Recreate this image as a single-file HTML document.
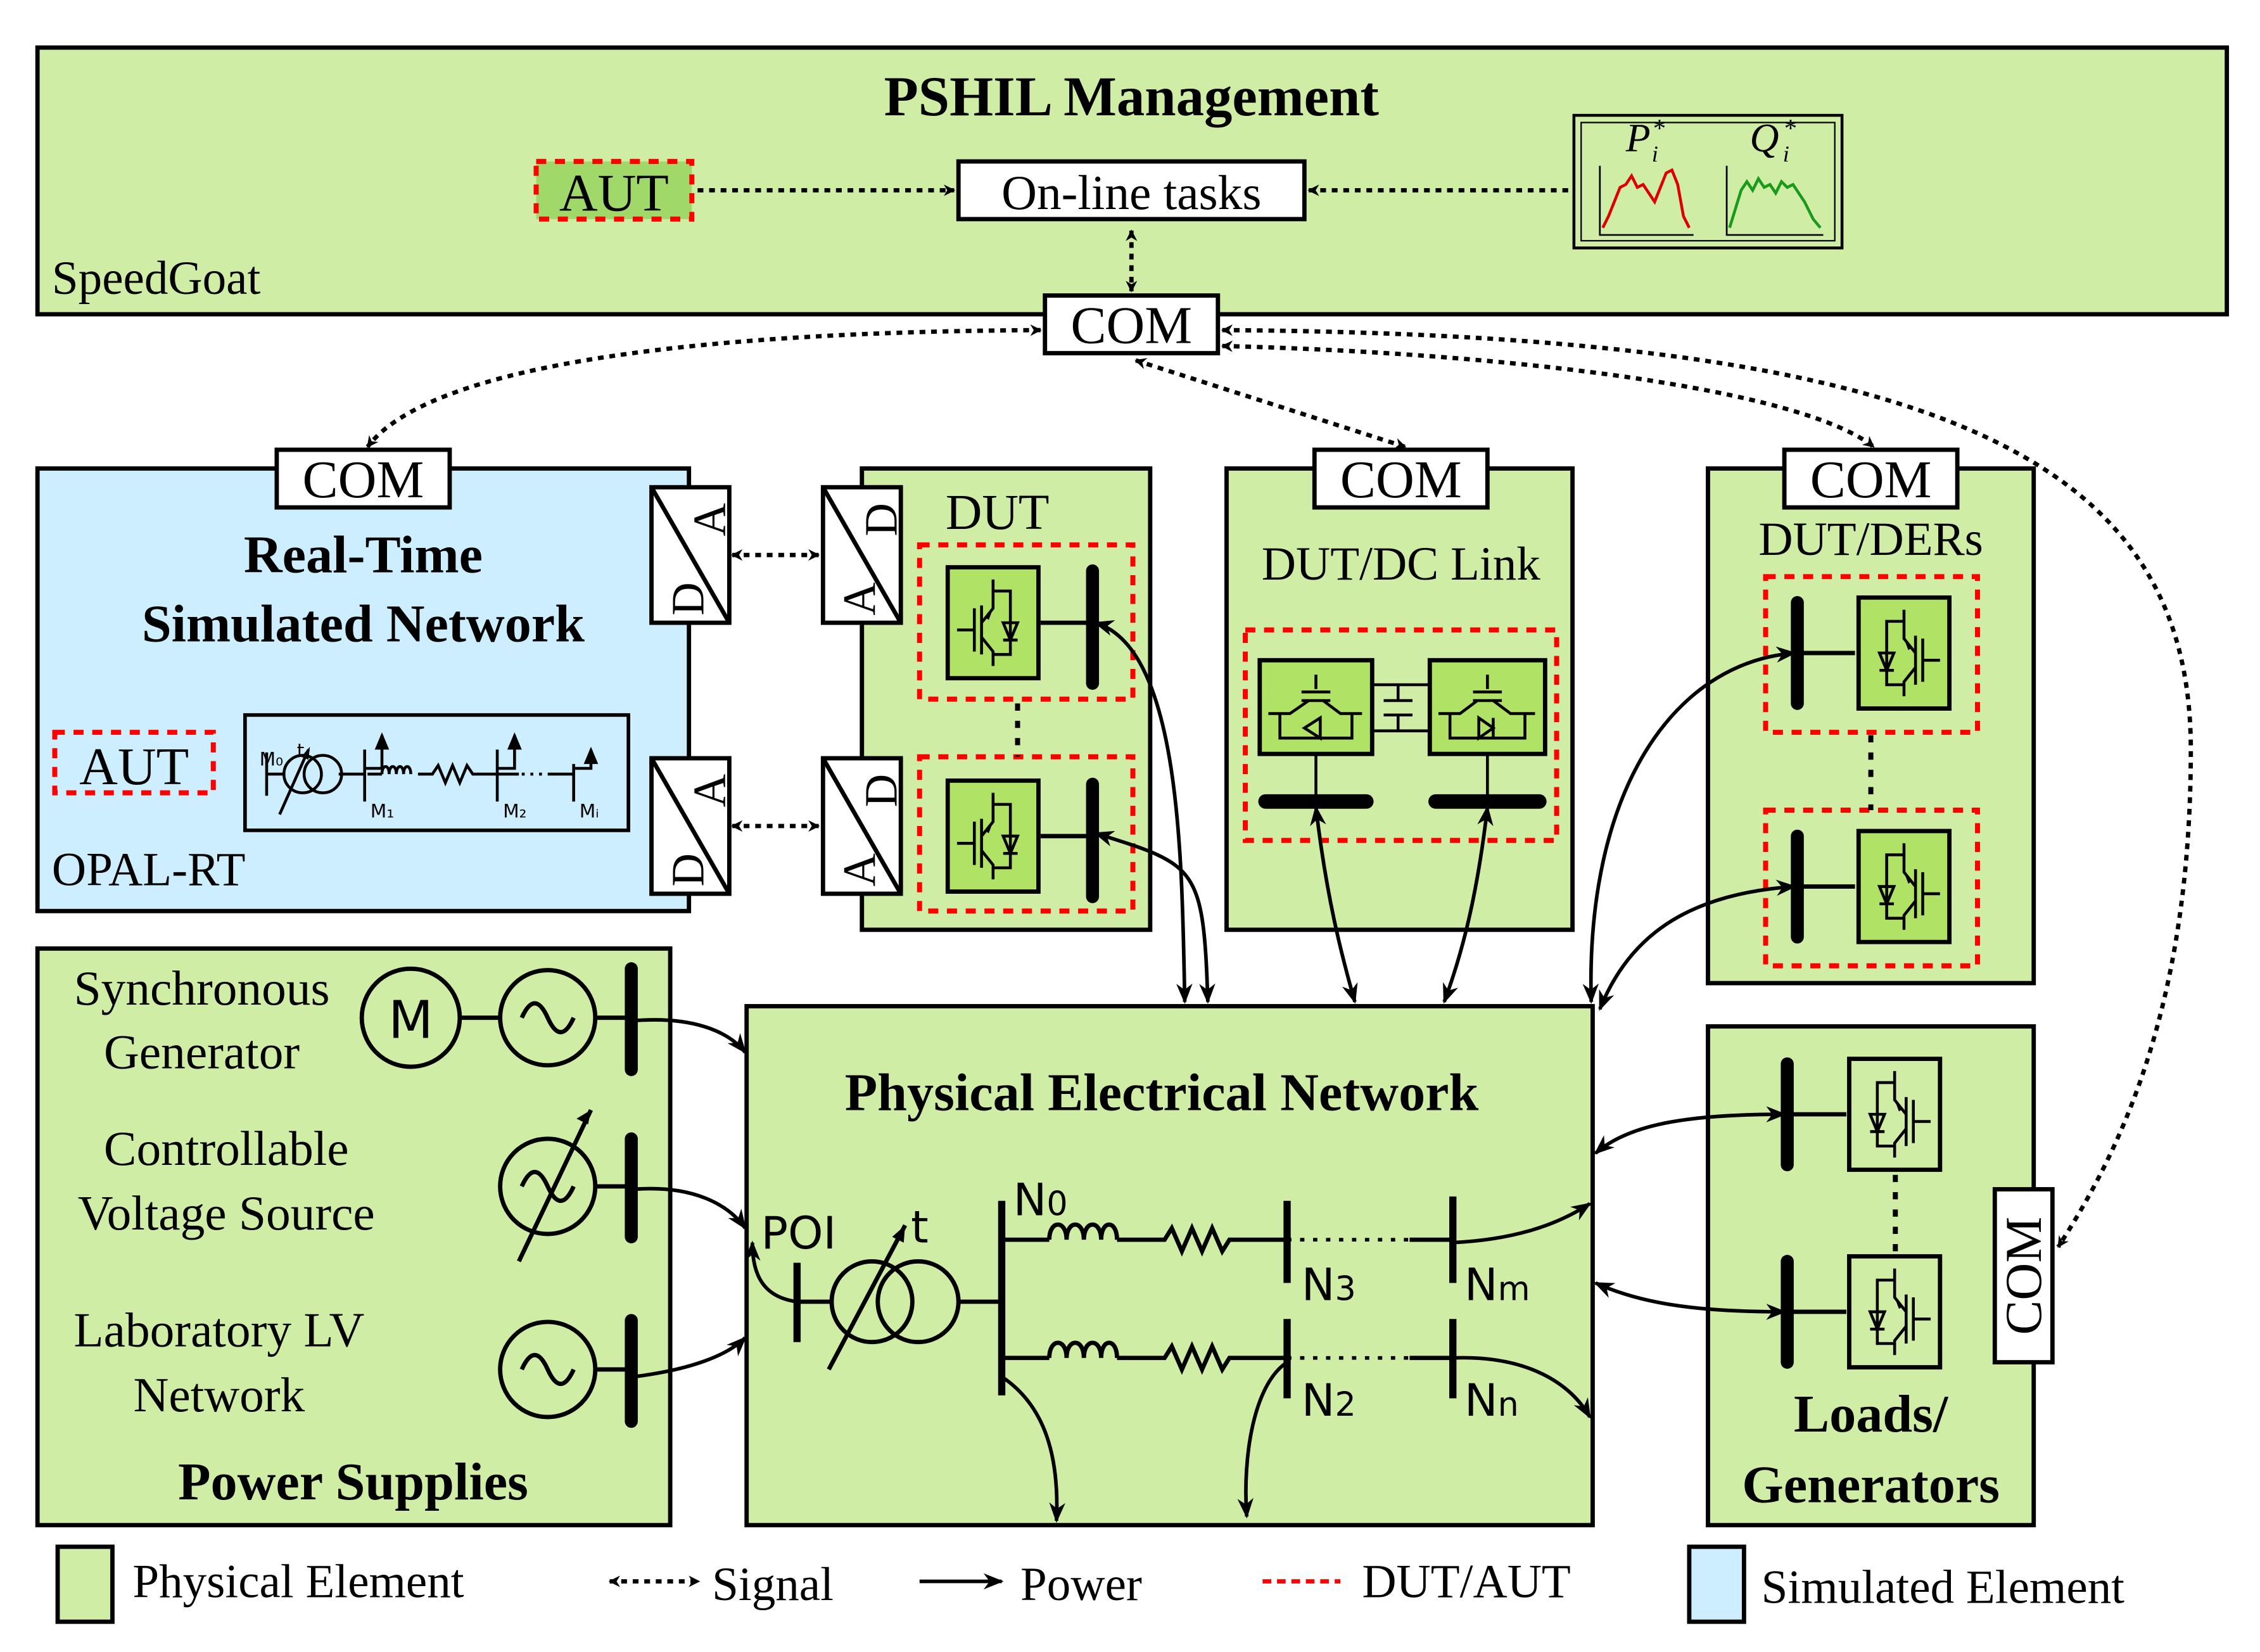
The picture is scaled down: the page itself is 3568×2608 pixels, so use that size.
<!DOCTYPE html>
<html><head><meta charset="utf-8"><style>html,body{margin:0;padding:0;background:#fff}svg{display:block}</style></head><body>
<svg width="3568" height="2608" viewBox="0 0 1568 1146" preserveAspectRatio="none" xmlns="http://www.w3.org/2000/svg" font-family="Liberation Serif, serif">
<defs>
<marker id="ar" viewBox="0 0 10 10" refX="9" refY="5" markerWidth="8" markerHeight="8" orient="auto-start-reverse" markerUnits="userSpaceOnUse"><path d="M0,0 L10,5 L0,10 L3,5z" fill="#000"/></marker>
<marker id="ap" viewBox="0 0 10 10" refX="9" refY="5" markerWidth="14" markerHeight="14" orient="auto-start-reverse" markerUnits="userSpaceOnUse"><path d="M0,1 L10,5 L0,9 L3,5z" fill="#000"/></marker>
<symbol id="inv" viewBox="0 0 66 80">
<rect x="1.5" y="1.5" width="63" height="77" fill="inherit" stroke="#000" stroke-width="3"/>
<g stroke="#000" stroke-width="2" fill="none">
<path d="M8,45 H20 M20,30 V60 M25,28 V62 M33,10 V30 L25,40 M25,50 L33,60 V70 M33,18 H45 V62 H33"/>
<path d="M40,40 H50 L45,52 Z M40,52 H50"/>
</g>
<path d="M33,30 L27,36 L30,38Z" fill="#000"/>
</symbol>
</defs>
<g stroke="#000" stroke-width="3">
<rect x="26" y="33" width="1519" height="185" fill="#d0eda6"/>
<rect x="26" y="325" width="452" height="307" fill="#cdeefe"/>
<rect x="598" y="325" width="200" height="320" fill="#d0eda6"/>
<rect x="851" y="325" width="240" height="320" fill="#d0eda6"/>
<rect x="1185" y="325" width="226" height="357" fill="#d0eda6"/>
<rect x="26" y="658" width="439" height="400" fill="#d0eda6"/>
<rect x="518" y="698" width="587" height="360" fill="#d0eda6"/>
<rect x="1185" y="712" width="226" height="346" fill="#d0eda6"/>
<rect x="665" y="112" width="240" height="40" fill="#fff"/>
<rect x="725" y="205" width="120" height="40" fill="#fff"/>
<rect x="192" y="312" width="120" height="40" fill="#fff"/>
<rect x="912" y="312" width="120" height="40" fill="#fff"/>
<rect x="1238" y="312" width="120" height="40" fill="#fff"/>
<rect x="1384" y="825" width="40" height="120" fill="#fff"/>
<rect x="1092" y="80" width="186" height="92" fill="#d0eda6" stroke-width="2"/>
<rect x="170" y="496" width="266" height="80" fill="#cdeefe" stroke-width="2.5"/>
</g>
<rect x="1097" y="85" width="176" height="82" fill="none" stroke="#000" stroke-width="1"/>
<g stroke="#f00" stroke-width="3.5" stroke-dasharray="7,6" fill="none">
<rect x="372" y="112" width="108" height="40" fill="#a0d86a"/>
<rect x="38" y="508" width="110" height="42" fill="#cdeefe"/>
<rect x="638" y="378" width="148" height="107"/>
<rect x="638" y="525" width="148" height="107"/>
<rect x="864" y="437" width="216" height="146"/>
<rect x="1225" y="400" width="147" height="108"/>
<rect x="1225" y="562" width="147" height="108"/>
</g>
<g font-size="37" text-anchor="middle">
<text x="785" y="80" font-weight="bold" font-size="39">PSHIL Management</text>
<text x="426" y="146">AUT</text>
<text x="785" y="145" font-size="34">On-line tasks</text>
<text x="785" y="238">COM</text>
<text x="252" y="345">COM</text>
<text x="972" y="345">COM</text>
<text x="1298" y="345">COM</text>
<text x="93" y="544">AUT</text>
<text x="252" y="397" font-weight="bold">Real-Time</text>
<text x="252" y="445" font-weight="bold">Simulated Network</text>
<text x="806" y="770" font-weight="bold">Physical Electrical Network</text>
<text x="245" y="1040" font-weight="bold">Power Supplies</text>
<text x="1298" y="993" font-weight="bold">Loads/</text>
<text x="1298" y="1042" font-weight="bold">Generators</text>
<text x="692" y="367" font-size="35">DUT</text>
<text x="972" y="402" font-size="33">DUT/DC Link</text>
<text x="1298" y="385" font-size="33">DUT/DERs</text>
<text x="140" y="697" font-size="34">Synchronous</text>
<text x="140" y="741" font-size="34">Generator</text>
<text x="157" y="808" font-size="34">Controllable</text>
<text x="157" y="853" font-size="34">Voltage Source</text>
<text x="152" y="934" font-size="34">Laboratory LV</text>
<text x="152" y="979" font-size="34">Network</text>
</g>
<g font-size="33">
<text x="36" y="204">SpeedGoat</text>
<text x="36" y="614">OPAL-RT</text>
<text x="92" y="1108">Physical Element</text>
<text x="494" y="1110">Signal</text>
<text x="708" y="1110">Power</text>
<text x="945" y="1108">DUT/AUT</text>
<text x="1222" y="1112">Simulated Element</text>
</g>
<text transform="translate(1416,885) rotate(-90)" font-size="36" text-anchor="middle">COM</text>
<g font-style="italic" font-size="28"><text x="1128" y="105">P</text><text x="1146" y="95" font-size="18">*</text><text x="1146" y="112" font-size="16">i</text>
<text x="1214" y="105">Q</text><text x="1237" y="95" font-size="18">*</text><text x="1237" y="112" font-size="16">i</text></g>
<path d="M1110,115 V163 H1175 M1198,115 V163 H1265" stroke="#000" stroke-width="1.2" fill="none"/>
<polyline points="1112,158 1116,150 1120,140 1124,130 1128,128 1132,122 1136,130 1140,128 1144,134 1148,140 1152,130 1156,120 1160,118 1164,128 1168,150 1172,158" stroke="#d00" stroke-width="2" fill="none"/>
<polyline points="1200,158 1204,145 1208,132 1212,126 1216,132 1220,124 1224,130 1228,128 1232,134 1236,126 1240,130 1244,128 1248,134 1252,140 1258,152 1263,158" stroke="#1a9a1a" stroke-width="2" fill="none"/>
<g stroke="#000" stroke-width="3" fill="#fff">
<rect x="452" y="338" width="54" height="94"/><rect x="452" y="526" width="54" height="94"/>
<rect x="571" y="338" width="54" height="94"/><rect x="571" y="526" width="54" height="94"/>
<path d="M452,338 L506,432 M452,526 L506,620 M571,338 L625,432 M571,526 L625,620" fill="none"/>
</g>
<g font-size="32">
<text transform="translate(488,427) rotate(-90)">D</text><text transform="translate(503,372) rotate(-90)">A</text>
<text transform="translate(488,615) rotate(-90)">D</text><text transform="translate(503,560) rotate(-90)">A</text>
<text transform="translate(607,427) rotate(-90)">A</text><text transform="translate(622,372) rotate(-90)">D</text>
<text transform="translate(607,615) rotate(-90)">A</text><text transform="translate(622,560) rotate(-90)">D</text>
</g>
<g fill="#b0e265">
<use href="#inv" x="656" y="392" width="66" height="80"/>
<use href="#inv" x="656" y="540" width="66" height="80"/>
<use href="#inv" x="1287" y="413" width="68" height="80" transform="translate(2642,0) scale(-1,1)"/>
<use href="#inv" x="1287" y="575" width="68" height="80" transform="translate(2642,0) scale(-1,1)"/>
</g>
<g fill="#d0eda6">
<use href="#inv" x="1281" y="733" width="67" height="80" transform="translate(2629,0) scale(-1,1)"/>
<use href="#inv" x="1281" y="870" width="67" height="80" transform="translate(2629,0) scale(-1,1)"/>
</g>
<g stroke="#000" stroke-width="3">
<rect x="874" y="458" width="78" height="65" fill="#b0e265"/><rect x="992" y="458" width="80" height="65" fill="#b0e265"/>
</g>
<g stroke="#000" stroke-width="2" fill="none">
<path d="M952,475 H992 M952,507 H992 M970,475 V485 M960,486 H980 M960,496 H980 M970,497 V507"/>
<path d="M913,468 V478 M903,480 H923 M903,486 H923 M880,495 H895 L908,486 M918,486 L930,495 H945 M888,495 V512 H938 V495 M905,505 L916,498 V512Z M916,498 V512"/>
<path d="M1032,468 V478 M1022,480 H1042 M1022,486 H1042 M998,495 H1013 L1025,486 M1036,486 L1048,495 H1065 M1006,495 V512 H1058 V495 M1026,498 V512 L1036,505Z M1036,498 V512"/>
<path d="M913,523 V556 M1032,523 V556"/>
</g>
<g stroke="#000" stroke-linecap="round">
<path d="M758,396 V474 M758,544 V622 M1247,418 V488 M1247,580 V650 M1240,738 V808 M1240,875 V945 M438,672 V742 M438,790 V858 M438,916 V986" stroke-width="9"/>
<path d="M878,556 H948 M996,556 H1068" stroke-width="10"/>
</g>
<g stroke="#000" stroke-width="3" fill="none">
<path d="M722,432 H758 M722,580 H758 M1247,453 H1287 M1247,615 H1287 M1240,773 H1281 M1240,910 H1281"/>
<circle cx="285" cy="706" r="34"/><circle cx="380" cy="706" r="33"/><path d="M319,706 H347 M413,706 H438"/>
<circle cx="380" cy="823" r="33"/><path d="M413,823 H438 M360,875 L410,770"/>
<circle cx="380" cy="950" r="33"/><path d="M413,950 H438"/>
<path d="M362,706 q9,-20 18,0 t18,0 M362,823 q9,-20 18,0 t18,0 M362,950 q9,-20 18,0 t18,0"/>
</g>
<text x="285" y="720" font-family="DejaVu Sans, sans-serif" font-size="36" text-anchor="middle">M</text>
<path d="M410,770 l-10,6 l8,4z" fill="#000"/>
<g stroke="#000" stroke-width="3.5" stroke-dasharray="5,7"><path d="M706,488 V525 M1298,510 V562 M1315,815 V868"/></g>
<g stroke="#000" fill="none">
<path d="M553,876 V931 M695,833 V968 M893,833 V890 M893,915 V970 M1008,830 V890 M1008,915 V970" stroke-width="5"/>
<g stroke-width="3">
<path d="M553,903 H577 M665,903 H695"/>
<circle cx="605" cy="903" r="28"/><circle cx="637" cy="903" r="28"/>
<path d="M575,950 L628,850"/>
<path d="M695,860 H728 M775,860 H808 L813,852 L820,868 L827,852 L834,868 L841,852 L848,868 L853,860 H893 M695,942 H728 M775,942 H808 L813,934 L820,950 L827,934 L834,950 L841,934 L848,950 L853,942 H893"/>
<path d="M728,860 c0,-14 12,-14 12,0 c0,-14 12,-14 12,0 c0,-14 12,-14 12,0 c0,-14 11,-14 11,0 M728,942 c0,-14 12,-14 12,0 c0,-14 12,-14 12,0 c0,-14 12,-14 12,0 c0,-14 11,-14 11,0"/>
<path d="M978,860 H1008 M978,942 H1008"/>
</g>
<path d="M893,860 H978 M893,942 H978" stroke-width="2.5" stroke-dasharray="3,6"/>
</g>
<path d="M628,850 l-9,8 l8,4z" fill="#000"/>
<g font-family="DejaVu Sans, sans-serif" font-size="31">
<text x="528" y="866">POI</text><text x="632" y="862">t</text>
<text x="703" y="843">N<tspan font-size="23">0</tspan></text>
<text x="903" y="902">N<tspan font-size="23">3</tspan></text>
<text x="1016" y="902">N<tspan font-size="23">m</tspan></text>
<text x="903" y="982">N<tspan font-size="23">2</tspan></text>
<text x="1016" y="982">N<tspan font-size="23">n</tspan></text>
</g>
<g stroke="#000" stroke-width="2" fill="none">
<path d="M185,522 V552 M185,537 H197 M235,537 H253 M253,520 V556 M253,533 H265 V510 M255,537 H265 M290,537 H300 L304,531 L309,543 L314,531 L319,543 L324,531 L328,537 H345 M345,520 V556 M345,533 H357 V510 M345,537 H360 M380,537 H398 M398,530 V556 M398,533 H410 V520 M194,565 L214,520"/>
<circle cx="210" cy="537" r="13"/><circle cx="224" cy="537" r="13"/>
<path d="M265,537 c0,-7 5,-7 5,0 c0,-7 5,-7 5,0 c0,-7 5,-7 5,0 c0,-7 5,-7 5,0"/>
<path d="M362,537 H378" stroke-dasharray="2,4"/>
</g>
<g fill="#000"><path d="M265,508 l-5,12 h10z M357,508 l-5,12 h10z M410,518 l-5,12 h10z M215,518 l-6,7 l5,2z"/></g>
<g font-family="DejaVu Sans, sans-serif" font-size="13"><text x="180" y="531">M₀</text><text x="206" y="525">t</text><text x="257" y="567">M₁</text><text x="349" y="567">M₂</text><text x="402" y="567">Mᵢ</text></g>
<g stroke="#000" stroke-width="3" fill="none" stroke-dasharray="4,4" marker-end="url(#ar)">
<path d="M484,132 H662"/>
<path d="M1088,132 H908"/>
<path d="M785,160 V202" marker-start="url(#ar)"/>
<path d="M722,229 C500,230 300,250 255,310" marker-start="url(#ar)"/>
<path d="M788,250 L975,310" marker-start="url(#ar)"/>
<path d="M848,240 C1050,245 1250,270 1300,310" marker-start="url(#ar)"/>
<path d="M848,229 C1350,232 1520,320 1520,520 C1520,700 1470,800 1428,865" marker-start="url(#ar)"/>
<path d="M508,385 H568" marker-start="url(#ar)"/>
<path d="M508,573 H568" marker-start="url(#ar)"/>
<path d="M423,1097 H485" marker-start="url(#ar)"/>
</g>
<g stroke="#000" stroke-width="2.5" fill="none" marker-end="url(#ap)">
<path d="M440,708 C480,705 505,715 517,730"/>
<path d="M440,825 C480,822 505,835 517,852"/>
<path d="M440,955 C480,950 505,940 517,928"/>
<path d="M553,903 C530,900 522,885 522,862"/>
<path d="M760,432 C820,450 820,600 822,695" marker-start="url(#ap)"/>
<path d="M838,695 C835,600 830,600 760,578" marker-start="url(#ap)"/>
<path d="M913,560 C920,620 930,660 940,695" marker-start="url(#ap)"/>
<path d="M1032,560 C1025,620 1015,660 1002,695" marker-start="url(#ap)"/>
<path d="M1104,695 C1100,550 1160,460 1245,453" marker-start="url(#ap)"/>
<path d="M1110,700 C1130,650 1170,620 1245,615" marker-start="url(#ap)"/>
<path d="M1107,800 C1130,780 1170,773 1238,773" marker-start="url(#ap)"/>
<path d="M1107,890 C1140,905 1180,910 1238,910" marker-start="url(#ap)"/>
<path d="M1008,862 C1050,860 1080,850 1103,835"/>
<path d="M1008,942 C1060,940 1090,960 1103,983"/>
<path d="M695,955 C725,975 735,1010 733,1055"/>
<path d="M893,945 C870,960 862,1010 865,1052"/>
<path d="M638,1097 H695"/>
</g>
<path d="M876,1097 H930" stroke="#f00" stroke-width="3" stroke-dasharray="6,4"/>
<rect x="40" y="1073" width="38" height="52" fill="#d0eda6" stroke="#000" stroke-width="3"/>
<rect x="1172" y="1073" width="38" height="52" fill="#cdeefe" stroke="#000" stroke-width="3"/>
</svg>
</body></html>
